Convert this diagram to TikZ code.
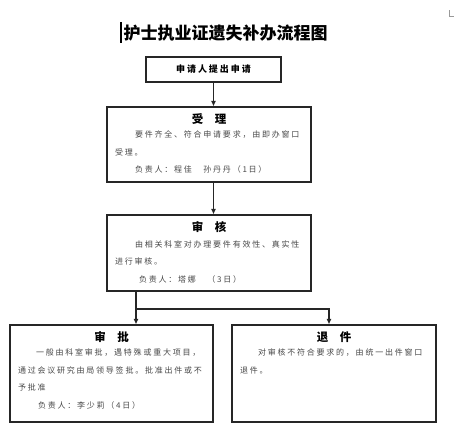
\documentclass[tikz,border=0pt]{standalone}
\usepackage{fontspec}
\usetikzlibrary{arrows.meta}
\newfontfamily\cjk[LetterSpace=22]{Noto Sans CJK SC}
\newfontfamily\cjkhead{Noto Sans CJK SC}

\tikzset{
  box/.style={draw=black!85, line width=1.1pt, inner sep=0pt},
  head/.style={inner sep=0pt, font=\cjkhead\bfseries\fontsize{11.5}{12}\selectfont},
  body/.style={anchor=north west, align=left, inner sep=0pt, text=black!72,
    font=\cjk\fontsize{8}{17.5}\selectfont},
  link/.style={draw=black!85, line width=1.1pt, ->, >={Latex[length=5.5pt,width=5pt]}}
}

\begin{document}
\begin{tikzpicture}[x=1pt,y=-1pt]
   \useasboundingbox (0,0) rectangle (463,447);
   \draw [black!40, line width=0.4pt] (449,10) -- (449,16) -- (454,16);
   \draw [line width=1.4pt] (121,22) -- (121,43);
   \node (title) at (225.5,33) {\cjkhead\bfseries\fontsize{17}{17}\selectfont 护士执业证遗失补办流程图};
   \node [box, minimum width=135pt, minimum height=25pt] (apply) at (213.5,69.5)
      {\cjk\bfseries\fontsize{9}{9}\selectfont 申请人提出申请};
   \node [box, minimum width=204pt, minimum height=75pt] (accept) at (209,144.5) {};
   \node [box, minimum width=204pt, minimum height=76pt] (review) at (209,253) {};
   \node [box, minimum width=203pt, minimum height=97pt] (approve) at (111.5,373.5) {};
   \node [box, minimum width=204pt, minimum height=97pt] (reject) at (334,373.5) {};
   \node [head] (accepthead) at ([yshift=-13pt]accept.north) {受　理};
   \node [head] (reviewhead) at ([yshift=-13pt]review.north) {审　核};
   \node [head] (approvehead) at ([yshift=-12.5pt]approve.north) {审　批};
   \node [head] (rejecthead) at ([yshift=-12.5pt]reject.north) {退　件};
   \node [body] (acceptbody) at ([shift={(8.5,24.5)}]accept.north west)
      {\hspace*{20pt}要件齐全、符合申请要求，由即办窗口\\受理。\\\hspace*{20pt}负责人：程佳　孙丹丹（1日）};
   \node [body] (reviewbody) at ([shift={(8.5,26)}]review.north west)
      {\hspace*{20pt}由相关科室对办理要件有效性、真实性\\进行审核。\\\hspace*{24pt}负责人：塔娜　（3日）};
   \node [body] (approvebody) at ([shift={(8.5,24.5)}]approve.north west)
      {\hspace*{18pt}一般由科室审批，遇特殊或重大项目，\\通过会议研究由局领导签批。批准出件或不\\予批准\\\hspace*{20pt}负责人：李少莉（4日）};
   \node [body] (rejectbody) at ([shift={(8.5,24.5)}]reject.north west)
      {\hspace*{18pt}对审核不符合要求的，由统一出件窗口\\退件。};
   \coordinate (split) at (136,309);
   \coordinate (splitr) at (329,309);
   \draw [link] (apply.south) -- (apply.south |- accept.north);
   \draw [link] (accept.south -| apply.south) -- (apply.south |- review.north);
   \draw [link] (review.south -| split) -- (approve.north -| split);
   \draw [link] (split) -- (splitr) -- (reject.north -| splitr);
\end{tikzpicture}
\end{document}
